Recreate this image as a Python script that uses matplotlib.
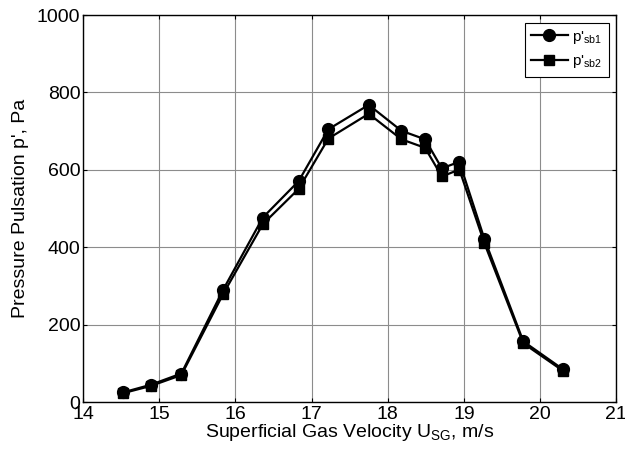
import numpy as np
from matplotlib import pyplot as plt

plt.rcParams['font.family'] = ['Liberation Sans', 'DejaVu Sans']
plt.rcParams['mathtext.fontset'] = 'custom'
plt.rcParams['mathtext.rm'] = 'Liberation Sans'
plt.rcParams['mathtext.it'] = 'Liberation Sans'

# superficial gas velocity, m/s
u_sg = [14.52, 14.89, 15.29, 15.84, 16.36, 16.83, 17.22, 17.75, 18.18, 18.49, 18.71, 18.94, 19.27, 19.78, 20.30]
# pressure pulsation, Pa
p_sb1 = [25, 45, 74, 291, 477, 571, 705, 768, 701, 679, 604, 621, 421, 157, 85]
p_sb2 = [23, 42, 70, 280, 460, 551, 681, 745, 679, 657, 583, 601, 410, 152, 81]

fig = plt.figure(figsize=(6.25, 4.57), dpi=100)
ax = fig.add_axes([0.133, 0.12, 0.853, 0.847])

ax.plot(u_sg, p_sb1, '-o', color='k', lw=1.6, ms=8.5, label=r"p$'_{\mathrm{sb1}}$")
ax.plot(u_sg, p_sb2, '-s', color='k', lw=1.6, ms=7.5, label=r"p$'_{\mathrm{sb2}}$")

ax.set_xlim(14, 21)
ax.set_ylim(0, 1000)
ax.set_xticks(range(14, 22))
ax.set_yticks(range(0, 1001, 200))
ax.grid(True, color='#8c8c8c', lw=0.8)
ax.set_axisbelow(True)
ax.tick_params(direction='in', top=True, right=True, labelsize=14, length=3, pad=2)
ax.tick_params(axis='x', pad=3)
for s in ax.spines.values():
    s.set_linewidth(1.0)

ax.set_xlabel(r"Superficial Gas Velocity U$_{\mathrm{SG}}$, m/s", fontsize=14, labelpad=-1)
ax.set_ylabel("Pressure Pulsation p', Pa", fontsize=14, labelpad=6)

leg = ax.legend(loc='upper right', fontsize=11, fancybox=False, framealpha=1,
                edgecolor='k', handlelength=2.4, handletextpad=0.3,
                borderaxespad=0.5, labelspacing=0.5)
leg.get_frame().set_linewidth(0.8)

plt.savefig('out.png', dpi=100)
